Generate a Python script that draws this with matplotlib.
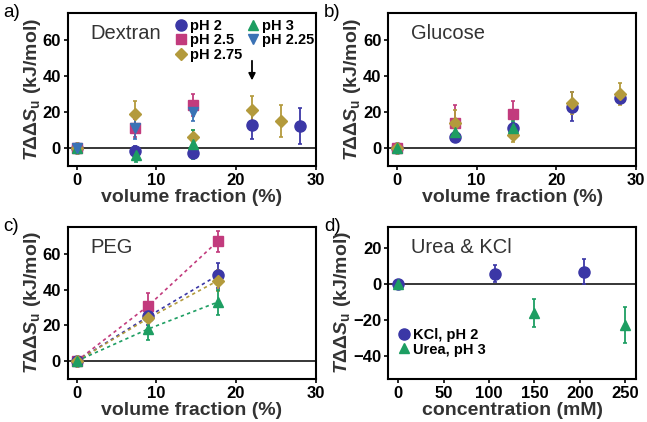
import matplotlib
matplotlib.use("Agg")
import matplotlib.pyplot as plt
from matplotlib.lines import Line2D

plt.rcParams['font.family'] = ['Liberation Sans', 'DejaVu Sans']
plt.rcParams['font.weight'] = 'bold'
plt.rcParams['axes.labelweight'] = 'bold'
plt.rcParams['mathtext.fontset'] = 'custom'
plt.rcParams['mathtext.rm'] = 'Liberation Sans:bold'
plt.rcParams['mathtext.it'] = 'Liberation Sans:italic:bold'
plt.rcParams['mathtext.bf'] = 'Liberation Sans:bold'

# colours / markers per series
C_PH2, C_PH25, C_PH275, C_PH3, C_PH225 = "#3b37a6", "#c23b7d", "#b39a3c", "#1d9e62", "#3a72b5"

# ---- a) Dextran ----
dex_x = [0, 7.3, 14.6, 22, 28]
dex_ph2 = [0, -2, -3, 13, 12]
dex_ph2_err = [1.5, 3, 2, 8, 10]
dex_ph25_x = [0, 7.3, 14.6]
dex_ph25 = [0, 11, 24]
dex_ph25_err = [1.5, 5, 6]
dex_ph275_x = [0, 7.3, 14.6, 22, 25.7]
dex_ph275 = [0, 19, 6, 21, 15]
dex_ph275_err = [1.5, 7, 4, 8, 9]
dex_ph3_x = [0, 7.5, 14.6]
dex_ph3 = [0, -4, 2]
dex_ph3_err = [1.5, 4, 8]
dex_ph225_x = [0, 7.3, 14.6]
dex_ph225 = [0, 11, 20]
dex_ph225_err = [1.5, 6, 5]

# ---- b) Glucose ----
glu_x = [0, 7.3, 14.6, 22, 28]
glu_ph2 = [0, 6, 11, 23, 28]
glu_ph2_err = [1.5, 2, 3, 8, 3]
glu_ph25_x = [0, 7.3, 14.6]
glu_ph25 = [0, 14, 19]
glu_ph25_err = [1.5, 10, 7]
glu_ph275 = [0, 14, 7, 25, 30]
glu_ph275_err = [1.5, 7, 4, 6, 6]
glu_ph3_x = [0, 7.3, 14.6]
glu_ph3 = [0, 9, 11]
glu_ph3_err = [1.5, 4, 4]

# ---- c) PEG ----
peg_x = [0, 9, 17.7]
peg_ph25 = [0, 31, 67]
peg_ph25_err = [1.5, 7, 6]
peg_ph2 = [0, 25, 48]
peg_ph2_err = [1.5, 5, 7]
peg_ph275 = [0, 24, 45]
peg_ph275_err = [1.5, 6, 6]
peg_ph3 = [0, 18, 33]
peg_ph3_err = [1.5, 6, 7]

# ---- d) Urea & KCl ----
kcl_x = [0, 107, 205]
kcl = [0, 6, 7]
kcl_err = [1.5, 5, 7]
urea_x = [0, 150, 250]
urea = [0, -16, -23]
urea_err = [1.5, 8, 10]

YLABEL = r'$\mathit{T}\Delta\Delta\mathit{S}_\mathrm{u}$ (kJ/mol)'


def series(ax, x, y, err, color, marker, ms=7, dashed=False):
    ax.errorbar(x, y, yerr=err, color=color, marker=marker, ms=ms, ls='none',
                elinewidth=1.3, capsize=1.5, capthick=1.2, zorder=3)
    if dashed:
        ax.plot(x, y, color=color, lw=1.2, dashes=(2, 2), zorder=2)


def handle(color, marker, ms=7):
    return Line2D([], [], color=color, marker=marker, ms=ms, ls='none')


def style(ax, name, tag, xlabel, xlim, ylim, xticks, yticks):
    ax.axhline(0, color='k', lw=1.1, zorder=1)
    ax.set_xlim(*xlim)
    ax.set_ylim(*ylim)
    ax.set_xticks(xticks)
    ax.set_yticks(yticks)
    ax.set_yticklabels([str(t).replace('-', '\u2212') for t in yticks])
    ax.tick_params(labelsize=12, width=1.2, length=3, pad=2)
    for s in ax.spines.values():
        s.set_linewidth(1.5)
    ax.set_xlabel(xlabel, fontsize=14, labelpad=1, color='#333333')
    ax.set_ylabel(YLABEL, fontsize=14, labelpad=0, color='#333333')
    ax.text(0.09, 0.93, name, transform=ax.transAxes, fontsize=14.5,
            fontweight='normal', color='#333333', va='top', ha='left')
    ax.text(-0.26, 1.06, tag, transform=ax.transAxes, fontsize=13.5,
            fontweight='normal', va='top', ha='left')


fig = plt.figure(figsize=(6.47, 4.22), dpi=100)
ax_a = fig.add_axes([0.105, 0.607, 0.383, 0.362])
ax_b = fig.add_axes([0.600, 0.607, 0.383, 0.362])
ax_c = fig.add_axes([0.105, 0.102, 0.383, 0.360])
ax_d = fig.add_axes([0.600, 0.102, 0.383, 0.360])

vf_ticks = [0, 10, 20, 30]
vf_yticks = [0, 20, 40, 60]

# a
series(ax_a, dex_x, dex_ph2, dex_ph2_err, C_PH2, 'o', ms=8)
series(ax_a, dex_ph25_x, dex_ph25, dex_ph25_err, C_PH25, 's')
series(ax_a, dex_ph275_x, dex_ph275, dex_ph275_err, C_PH275, 'D', ms=6)
series(ax_a, dex_ph3_x, dex_ph3, dex_ph3_err, C_PH3, '^')
series(ax_a, dex_ph225_x, dex_ph225, dex_ph225_err, C_PH225, 'v')
ax_a.annotate('', xy=(22, 36), xytext=(22, 50),
              arrowprops=dict(arrowstyle='-|>', color='k', lw=1.3, mutation_scale=10))
style(ax_a, 'Dextran', 'a)', 'volume fraction (%)', (-1.1, 30), (-10, 75), vf_ticks, vf_yticks)
ax_a.legend([handle(C_PH2, 'o', 8), handle(C_PH25, 's'), handle(C_PH275, 'D', 6),
             handle(C_PH3, '^'), handle(C_PH225, 'v')],
            ['pH 2', 'pH 2.5', 'pH 2.75', 'pH 3', 'pH 2.25'], ncol=2, loc='upper left',
            bbox_to_anchor=(0.39, 1.03), frameon=False, fontsize=10.5, handlelength=0.8,
            handletextpad=0.25, columnspacing=0.3, labelspacing=0.05, borderpad=0.2)

# b
series(ax_b, glu_x, glu_ph2, glu_ph2_err, C_PH2, 'o', ms=8)
series(ax_b, glu_ph25_x, glu_ph25, glu_ph25_err, C_PH25, 's')
series(ax_b, glu_x, glu_ph275, glu_ph275_err, C_PH275, 'D', ms=6)
series(ax_b, glu_ph3_x, glu_ph3, glu_ph3_err, C_PH3, '^')
style(ax_b, 'Glucose', 'b)', 'volume fraction (%)', (-1.1, 30), (-10, 75), vf_ticks, vf_yticks)

# c
series(ax_c, peg_x, peg_ph25, peg_ph25_err, C_PH25, 's', dashed=True)
series(ax_c, peg_x, peg_ph2, peg_ph2_err, C_PH2, 'o', ms=8, dashed=True)
series(ax_c, peg_x, peg_ph275, peg_ph275_err, C_PH275, 'D', ms=6, dashed=True)
series(ax_c, peg_x, peg_ph3, peg_ph3_err, C_PH3, '^', dashed=True)
style(ax_c, 'PEG', 'c)', 'volume fraction (%)', (-1.1, 30), (-10, 75), vf_ticks, vf_yticks)

# d
series(ax_d, kcl_x, kcl, kcl_err, C_PH2, 'o', ms=8)
series(ax_d, urea_x, urea, urea_err, C_PH3, '^')
style(ax_d, 'Urea & KCl', 'd)', 'concentration (mM)', (-11, 262), (-53, 32),
      [0, 50, 100, 150, 200, 250], [-40, -20, 0, 20])
ax_d.legend([handle(C_PH2, 'o', 8), handle(C_PH3, '^')], ['KCl, pH 2', 'Urea, pH 3'],
            loc='lower left', bbox_to_anchor=(0.0, 0.08), frameon=False, fontsize=10.5,
            handlelength=0.8, handletextpad=0.2, labelspacing=0.05, borderpad=0.2)

fig.savefig("out.png", dpi=100)
